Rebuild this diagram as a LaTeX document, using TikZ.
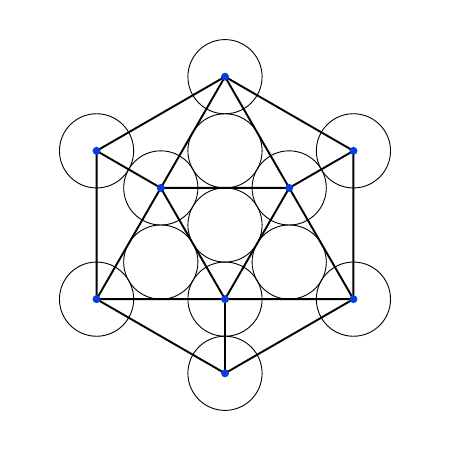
\documentclass[tikz,border=0pt]{standalone}
\definecolor{dotblue}{RGB}{5,64,222}
\begin{document}
\begin{tikzpicture}[x=1pt,y=1pt,
  ring/.style={draw=black,line width=0.9pt},
  edge/.style={draw=black,line width=1.9pt,line join=round},
  dot/.style={circle,fill=dotblue,inner sep=0pt,minimum size=8pt}]
\useasboundingbox (-225,-225) rectangle (225,225);
\fill[white] (-225,-225) rectangle (225,225);
% outer hexagon points
\coordinate (T) at (90:148.3);
\coordinate (UR) at (30:148.3);
\coordinate (LR) at (-30:148.3);
\coordinate (B) at (-90:148.3);
\coordinate (LL) at (210:148.3);
\coordinate (UL) at (150:148.3);
% inner points
\coordinate (C) at (0,0);
\coordinate (i90) at (90:74.15);
\coordinate (i30) at (30:74.15);
\coordinate (im30) at (-30:74.15);
\coordinate (i270) at (270:74.15);
\coordinate (i210) at (210:74.15);
\coordinate (i150) at (150:74.15);
% circles
\foreach \p in {T,UR,LR,B,LL,UL,C,i90,i30,im30,i270,i210,i150}
  \draw[ring] (\p) circle (37.1);
% lines
\draw[edge] (T) -- (UR) -- (LR) -- (B) -- (LL) -- (UL) -- cycle;
\draw[edge] (T) -- (LR) -- (LL) -- cycle;
\draw[edge] (i150) -- (i30) -- (i270) -- cycle;
\draw[edge] (UL) -- (i150);
\draw[edge] (UR) -- (i30);
\draw[edge] (B) -- (i270);
% dots
\foreach \p in {T,UR,LR,B,LL,UL,i30,i150,i270}
  \node[dot] (d\p) at (\p) {};
\end{tikzpicture}
\end{document}
